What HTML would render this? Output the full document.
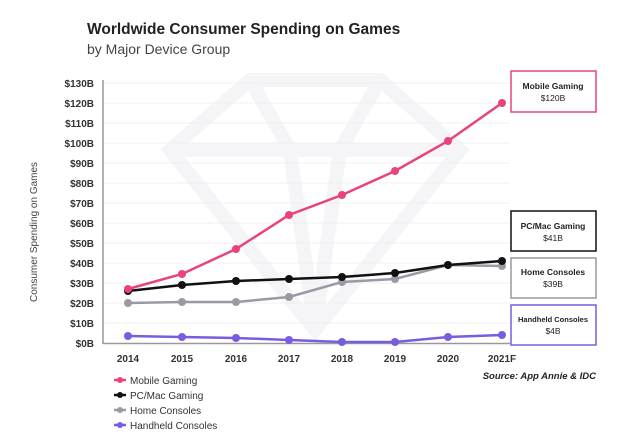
<!DOCTYPE html>
<html><head><style>
body{margin:0;background:#fff;}
svg{display:block;font-family:"Liberation Sans",sans-serif;}
</style></head><body>
<svg width="640" height="444" viewBox="0 0 640 444">
<rect width="640" height="444" fill="#fff"/>
<text x="87" y="34" font-size="15.5" font-weight="bold" fill="#222">Worldwide Consumer Spending on Games</text>
<text x="87" y="54" font-size="14" fill="#444">by Major Device Group</text>
<!-- watermark -->
<g fill="none" stroke="#f5f5f7" stroke-width="14">
<path d="M250 80 L380 80 L460 150 L315 330 L170 150 Z"/>
<path d="M170 150 L460 150 M250 80 L290 150 L315 330 M380 80 L340 150 L315 330"/>
</g>
<g stroke="#f0f0f0" stroke-width="1">
<line x1="104" x2="510" y1="83" y2="83"/><line x1="104" x2="510" y1="103" y2="103"/>
<line x1="104" x2="510" y1="123" y2="123"/><line x1="104" x2="510" y1="143" y2="143"/>
<line x1="104" x2="510" y1="163" y2="163"/><line x1="104" x2="510" y1="183" y2="183"/>
<line x1="104" x2="510" y1="203" y2="203"/><line x1="104" x2="510" y1="223" y2="223"/>
<line x1="104" x2="510" y1="243" y2="243"/><line x1="104" x2="510" y1="263" y2="263"/>
<line x1="104" x2="510" y1="283" y2="283"/><line x1="104" x2="510" y1="303" y2="303"/>
<line x1="104" x2="510" y1="323" y2="323"/>
</g>
<line x1="103" y1="80" x2="103" y2="344" stroke="#999" stroke-width="1.5"/>
<line x1="103" y1="343.5" x2="510" y2="343.5" stroke="#999" stroke-width="1.5"/>
<g font-size="10" font-weight="bold" fill="#333" text-anchor="end">
<text x="94" y="87">$130B</text><text x="94" y="107">$120B</text><text x="94" y="127">$110B</text>
<text x="94" y="147">$100B</text><text x="94" y="167">$90B</text><text x="94" y="187">$80B</text>
<text x="94" y="207">$70B</text><text x="94" y="227">$60B</text><text x="94" y="247">$50B</text>
<text x="94" y="267">$40B</text><text x="94" y="287">$30B</text><text x="94" y="307">$20B</text>
<text x="94" y="327">$10B</text><text x="94" y="347">$0B</text>
</g>
<text transform="translate(37,232) rotate(-90)" font-size="10" fill="#444" text-anchor="middle">Consumer Spending on Games</text>
<g font-size="10" font-weight="bold" fill="#333" text-anchor="middle">
<text x="128" y="362">2014</text><text x="182" y="362">2015</text><text x="236" y="362">2016</text>
<text x="289" y="362">2017</text><text x="342" y="362">2018</text><text x="395" y="362">2019</text>
<text x="448" y="362">2020</text><text x="502" y="362">2021F</text>
</g>
<g fill="none" stroke-width="2.5">
<polyline stroke="#999aa3" points="128,303 182,302 236,302 289,297 342,282 395,279 448,265 502,266"/>
<polyline stroke="#111" points="128,291 182,285 236,281 289,279 342,277 395,273 448,265 502,261"/>
<polyline stroke="#e8437a" points="128,289 182,274 236,249 289,215 342,195 395,171 448,141 502,103"/>
<polyline stroke="#7a5ce0" points="128,336 182,337 236,338 289,340 342,342 395,342 448,337 502,335"/>
</g>
<g fill="#999aa3"><circle cx="128" cy="303" r="4"/><circle cx="182" cy="302" r="4"/><circle cx="236" cy="302" r="4"/><circle cx="289" cy="297" r="4"/><circle cx="342" cy="282" r="4"/><circle cx="395" cy="279" r="4"/><circle cx="448" cy="265" r="4"/><circle cx="502" cy="266" r="4"/></g>
<g fill="#111"><circle cx="128" cy="291" r="4"/><circle cx="182" cy="285" r="4"/><circle cx="236" cy="281" r="4"/><circle cx="289" cy="279" r="4"/><circle cx="342" cy="277" r="4"/><circle cx="395" cy="273" r="4"/><circle cx="448" cy="265" r="4"/><circle cx="502" cy="261" r="4"/></g>
<g fill="#e8437a"><circle cx="128" cy="289" r="4"/><circle cx="182" cy="274" r="4"/><circle cx="236" cy="249" r="4"/><circle cx="289" cy="215" r="4"/><circle cx="342" cy="195" r="4"/><circle cx="395" cy="171" r="4"/><circle cx="448" cy="141" r="4"/><circle cx="502" cy="103" r="4"/></g>
<g fill="#7a5ce0"><circle cx="128" cy="336" r="4"/><circle cx="182" cy="337" r="4"/><circle cx="236" cy="338" r="4"/><circle cx="289" cy="340" r="4"/><circle cx="342" cy="342" r="4"/><circle cx="395" cy="342" r="4"/><circle cx="448" cy="337" r="4"/><circle cx="502" cy="335" r="4"/></g>
<g fill="#fff" stroke-width="1.5">
<rect x="511" y="71" width="85" height="41" stroke="#e8437a"/>
<rect x="511" y="211" width="85" height="40" stroke="#111"/>
<rect x="511" y="258" width="85" height="40" stroke="#999aa3"/>
<rect x="511" y="305" width="85" height="40" stroke="#7a5ce0"/>
</g>
<g font-size="8.5" text-anchor="middle" fill="#222">
<text x="553" y="89" font-weight="bold">Mobile Gaming</text><text x="553" y="101">$120B</text>
<text x="553" y="229" font-weight="bold">PC/Mac Gaming</text><text x="553" y="241">$41B</text>
<text x="553" y="275" font-weight="bold">Home Consoles</text><text x="553" y="287">$39B</text>
<text x="553" y="322" font-size="7.5" font-weight="bold">Handheld Consoles</text><text x="553" y="334">$4B</text>
</g>
<text x="596" y="379" font-size="9.5" font-weight="bold" font-style="italic" fill="#222" text-anchor="end">Source: App Annie &amp; IDC</text>
<g stroke-width="2.5">
<line x1="114" x2="126" y1="380" y2="380" stroke="#e8437a"/><circle cx="120" cy="380" r="3" fill="#e8437a"/>
<line x1="114" x2="126" y1="395" y2="395" stroke="#111"/><circle cx="120" cy="395" r="3" fill="#111"/>
<line x1="114" x2="126" y1="410" y2="410" stroke="#999aa3"/><circle cx="120" cy="410" r="3" fill="#999aa3"/>
<line x1="114" x2="126" y1="425" y2="425" stroke="#7a5ce0"/><circle cx="120" cy="425" r="3" fill="#7a5ce0"/>
</g>
<g font-size="10" fill="#333">
<text x="130" y="384">Mobile Gaming</text><text x="130" y="399">PC/Mac Gaming</text>
<text x="130" y="414">Home Consoles</text><text x="130" y="429">Handheld Consoles</text>
</g>
</svg>
</body></html>
